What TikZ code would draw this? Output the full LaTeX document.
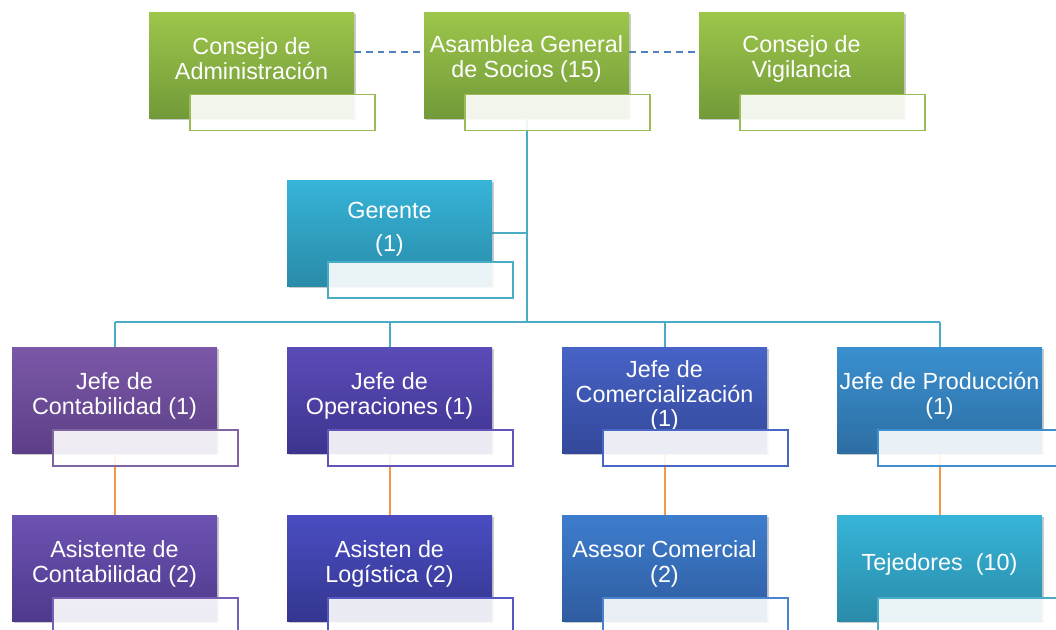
\documentclass[tikz,border=0pt]{standalone}
\usepackage{fontspec}
\setmainfont{Liberation Sans}
\usetikzlibrary{shadows,calc}
\pgfdeclarelayer{bg}
\pgfsetlayers{bg,main}
\definecolor{gTop}{HTML}{9DC64B}\definecolor{gBot}{HTML}{729A39}\definecolor{gLine}{HTML}{9BBB59}
\definecolor{cTop}{HTML}{36B4D8}\definecolor{cBot}{HTML}{2A8BA9}\definecolor{cLine}{HTML}{4BACC6}
\definecolor{p1Top}{HTML}{7B58A8}\definecolor{p1Bot}{HTML}{5C3F86}\definecolor{p1Line}{HTML}{8064A2}
\definecolor{p2Top}{HTML}{5A4CB8}\definecolor{p2Bot}{HTML}{3D348F}\definecolor{p2Line}{HTML}{6355B8}
\definecolor{b1Top}{HTML}{4763C6}\definecolor{b1Bot}{HTML}{33489A}\definecolor{b1Line}{HTML}{4A66C4}
\definecolor{b2Top}{HTML}{3A90D0}\definecolor{b2Bot}{HTML}{2D6EA3}\definecolor{b2Line}{HTML}{3F8FD0}
\definecolor{p3Top}{HTML}{6C52B2}\definecolor{p3Bot}{HTML}{4E3A8C}\definecolor{p3Line}{HTML}{7560B5}
\definecolor{p4Top}{HTML}{4A4DC2}\definecolor{p4Bot}{HTML}{34368F}\definecolor{p4Line}{HTML}{5558C4}
\definecolor{b3Top}{HTML}{3D7DCD}\definecolor{b3Bot}{HTML}{2F5CA0}\definecolor{b3Line}{HTML}{4A84CE}
\definecolor{conn}{HTML}{4BACC6}\definecolor{orangeln}{HTML}{F79646}\definecolor{dashc}{HTML}{4F81BD}
\tikzset{
  mainbox/.style 2 args={rectangle, minimum width=153.75pt, minimum height=79.5pt, inner sep=0pt,
     top color=#1, bottom color=#2, draw=none,
     drop shadow={shadow xshift=1.5pt, shadow yshift=-1.5pt, opacity=0.35, fill=black!60}},
  labbox/.style={rectangle, minimum width=138.75pt, minimum height=27pt, inner sep=0pt,
     fill=white, fill opacity=0.9, draw=#1, draw opacity=1, line width=1pt},
  boxtext/.style={text=white, align=center, font=\fontsize{17.5}{18.6}\selectfont, inner sep=0pt},
  connline/.style={draw=conn, line width=1.5pt},
  orline/.style={draw=orangeln, line width=1.5pt},
  dashline/.style={draw=dashc, line width=1.3pt, dash pattern=on 5pt off 3.8pt}
}
\begin{document}
\begin{tikzpicture}[x=0.75pt,y=-0.75pt]
\useasboundingbox (0,0) rectangle (1056,629);
% main boxes
\node[mainbox={gTop}{gBot}] (adm) at (251.5,65) {};
\node[mainbox={gTop}{gBot}] (asam) at (526.5,65) {};
\node[mainbox={gTop}{gBot}] (vig) at (801.5,65) {};
\node[mainbox={cTop}{cBot}] (ger) at (389.5,233) {};
\node[mainbox={p1Top}{p1Bot}] (jc) at (114.5,400) {};
\node[mainbox={p2Top}{p2Bot}] (jo) at (389.5,400) {};
\node[mainbox={b1Top}{b1Bot}] (jm) at (664.5,400) {};
\node[mainbox={b2Top}{b2Bot}] (jp) at (939.5,400) {};
\node[mainbox={p3Top}{p3Bot}] (ac) at (114.5,568) {};
\node[mainbox={p4Top}{p4Bot}] (al) at (389.5,568) {};
\node[mainbox={b3Top}{b3Bot}] (asc) at (664.5,568) {};
\node[mainbox={cTop}{cBot}] (tej) at (939.5,568) {};
% texts
\node[boxtext] (tadm) at ($(adm)+(0,-6)$) {Consejo de\\Administración};
\node[boxtext] (tasam) at ($(asam)+(0,-6)$) {Asamblea General\\de Socios (15)};
\node[boxtext] (tvig) at ($(vig)+(0,-6)$) {Consejo de\\Vigilancia};
\node[boxtext, font=\fontsize{17.5}{24.5}\selectfont] (tger) at ($(ger)+(0,-4)$) {Gerente\\(1)};
\node[boxtext] (tjc) at ($(jc)+(0,-4)$) {Jefe de\\Contabilidad (1)};
\node[boxtext] (tjo) at ($(jo)+(0,-4)$) {Jefe de\\Operaciones (1)};
\node[boxtext] (tjm) at ($(jm)+(0,-4)$) {Jefe de\\Comercialización\\(1)};
\node[boxtext] (tjp) at ($(jp)+(0,-4)$) {Jefe de Producción\\(1)};
\node[boxtext] (tac) at ($(ac)+(0,-4)$) {Asistente de\\Contabilidad (2)};
\node[boxtext] (tal) at ($(al)+(0,-4)$) {Asisten de\\Logística (2)};
\node[boxtext] (tasc) at ($(asc)+(0,-4)$) {Asesor Comercial\\(2)};
\node[boxtext] (ttej) at ($(tej)+(0,-4)$) {Tejedores~~(10)};
% label boxes
\node[labbox=gLine] (ladm) at ($(adm)+(31,47.5)$) {};
\node[labbox=gLine] (lasam) at ($(asam)+(31,47.5)$) {};
\node[labbox=gLine] (lvig) at ($(vig)+(31,47.5)$) {};
\node[labbox=cLine] (lger) at ($(ger)+(31,47)$) {};
\node[labbox=p1Line] (ljc) at ($(jc)+(31,48)$) {};
\node[labbox=p2Line] (ljo) at ($(jo)+(31,48)$) {};
\node[labbox=b1Line] (ljm) at ($(jm)+(31,48)$) {};
\node[labbox=b2Line] (ljp) at ($(jp)+(31,48)$) {};
\node[labbox=p3Line] (lac) at ($(ac)+(31,48)$) {};
\node[labbox=p4Line] (lal) at ($(al)+(31,48)$) {};
\node[labbox=b3Line] (lasc) at ($(asc)+(31,48)$) {};
\node[labbox=cLine] (ltej) at ($(tej)+(31,48)$) {};
% connectors
\begin{pgfonlayer}{bg}
\coordinate (bus) at ($(asam.south)+(0,204)$);
\draw[dashline] ([yshift=9.75pt]adm.east) -- ([yshift=9.75pt]asam.west);
\draw[dashline] ([yshift=9.75pt]asam.east) -- ([yshift=9.75pt]vig.west);
\draw[connline] (asam.south) -- (bus);
\draw[connline] (ger.east) -- (ger.east -| asam.south);
\draw[connline] (jc.north |- bus) -- (jp.north |- bus);
\draw[connline] (jc.north) -- (jc.north |- bus);
\draw[connline] (jo.north) -- (jo.north |- bus);
\draw[connline] (jm.north) -- (jm.north |- bus);
\draw[connline] (jp.north) -- (jp.north |- bus);
\draw[orline] (jc.south) -- (ac.north);
\draw[orline] (jo.south) -- (al.north);
\draw[orline] (jm.south) -- (asc.north);
\draw[orline] (jp.south) -- (tej.north);
\end{pgfonlayer}
\end{tikzpicture}
\end{document}
